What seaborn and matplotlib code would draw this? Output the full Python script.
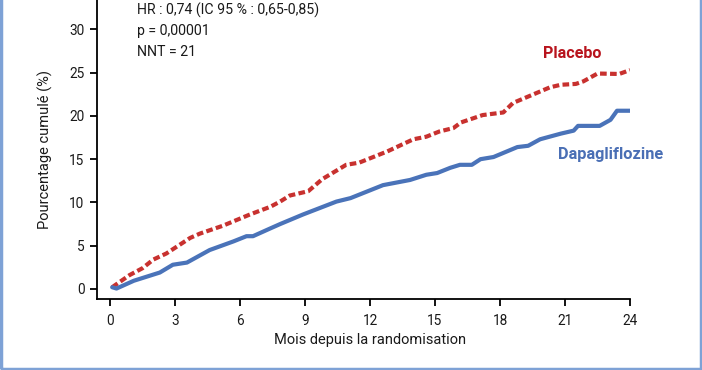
import pandas as pd
import matplotlib.pyplot as plt
import seaborn as sns
from matplotlib.patches import Rectangle

# === données ===
placebo_mois = [0.1, 0.9, 1.5, 2.0, 2.6, 3.7, 4.15, 5.2, 6.45, 7.4, 7.85, 8.3, 9.15, 9.8,
                10.9, 11.5, 12.8, 14.0, 14.6, 15.2, 15.85, 16.2, 17.2, 18.15, 18.6, 19.5,
                20.3, 20.8, 21.5, 21.85, 22.5, 23.5, 24.0]
placebo_pct = [0.2, 1.6, 2.4, 3.4, 4.1, 5.9, 6.4, 7.3, 8.6, 9.5, 10.1, 10.8, 11.3, 12.7,
               14.35, 14.6, 15.9, 17.3, 17.6, 18.2, 18.6, 19.25, 20.1, 20.4, 21.5, 22.45,
               23.3, 23.6, 23.7, 24.0, 24.9, 24.85, 25.3]

dapa_mois = [0.1, 0.3, 1.1, 2.3, 2.9, 3.55, 4.6, 5.7, 6.3, 6.6, 7.4, 7.85, 8.9, 10.45,
             11.1, 12.6, 13.85, 14.6, 15.1, 15.7, 16.15, 16.7, 17.1, 17.7, 18.8, 19.3,
             19.85, 20.8, 21.4, 21.6, 22.6, 23.1, 23.4, 24.0]
dapa_pct = [0.2, 0.05, 0.95, 1.9, 2.8, 3.05, 4.5, 5.5, 6.1, 6.1, 7.0, 7.5, 8.6, 10.1,
            10.5, 12.0, 12.6, 13.2, 13.4, 14.0, 14.35, 14.35, 15.0, 15.25, 16.4, 16.55,
            17.3, 17.95, 18.3, 18.85, 18.85, 19.55, 20.6, 20.6]

x_ticks = [0, 3, 6, 9, 12, 15, 18, 21, 24]
y_ticks = [0, 5, 10, 15, 20, 25, 30]
stats_lines = ["HR : 0,74 (IC 95 % : 0,65-0,85)", "p = 0,00001", "NNT = 21"]

ROUGE = "#c8312f"
BLEU = "#4a73b9"
TEXTE = "#1a1a1a"

sns.set_style("white")
plt.rcParams["font.family"] = ["Roboto", "DejaVu Sans"]

fig = plt.figure(figsize=(7.02, 3.70), dpi=100)
ax = fig.add_axes([97 / 702, 71 / 370, 533 / 702, 299 / 370])

df_p = pd.DataFrame({"mois": placebo_mois, "pct": placebo_pct})
df_d = pd.DataFrame({"mois": dapa_mois, "pct": dapa_pct})
sns.lineplot(data=df_p, x="mois", y="pct", ax=ax, color=ROUGE, lw=3,
             linestyle=(0, (1.6, 0.8)), sort=False)
sns.lineplot(data=df_d, x="mois", y="pct", ax=ax, color=BLEU, lw=3, sort=False)

ax.set_xlim(-0.6, 24)
ax.set_ylim(-1.16, 33.4)
ax.set_xticks(x_ticks)
ax.set_yticks(y_ticks)
ax.tick_params(axis="both", length=5, width=1.3, color="black", labelsize=9.8,
               labelcolor=TEXTE, pad=4, bottom=True, left=True)
ax.tick_params(axis="x", pad=6)
for s in ["top", "right"]:
    ax.spines[s].set_visible(False)
for s in ["left", "bottom"]:
    ax.spines[s].set_color("black")
    ax.spines[s].set_linewidth(1.3)

ax.set_xlabel("Mois depuis la randomisation", fontsize=10.5, color=TEXTE)
ax.set_ylabel("Pourcentage cumulé (%)", fontsize=10.5, color=TEXTE, labelpad=12)
ax.xaxis.set_label_coords(0.512, -0.114)

for i, t in enumerate(stats_lines):
    fig.text(137 / 702, 1 - (10 + 21 * i) / 370, t, fontsize=10.2, color=TEXTE,
             va="center", ha="left")

fig.text(543 / 702, 1 - 54 / 370, "Placebo", fontsize=11.6, fontweight="bold",
         color="#b8141d", va="center", ha="left")
fig.text(558 / 702, 1 - 155 / 370, "Dapagliflozine", fontsize=11.8, fontweight="bold",
         color="#4a6fb5", va="center", ha="left")

# cadre bleu clair
fig.patches.append(Rectangle((0.5 / 702, 1.5 / 370), 700 / 702, 400 / 370,
                             transform=fig.transFigure, fill=False,
                             edgecolor="#7ea2d6", lw=2.5))

fig.savefig("out.png", dpi=100)
